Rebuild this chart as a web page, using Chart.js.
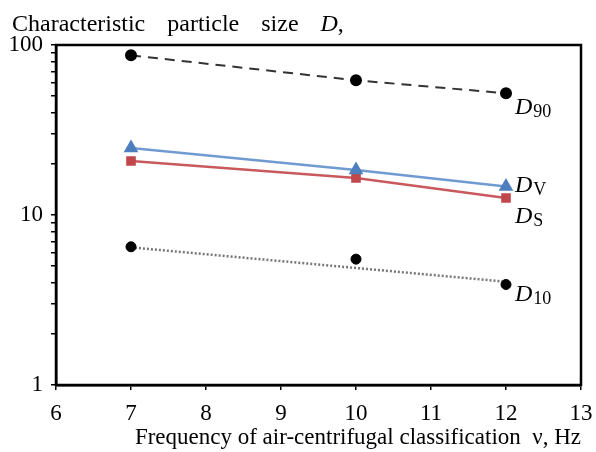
<!DOCTYPE html>
<html>
<head>
<meta charset="utf-8">
<script src="https://cdn.jsdelivr.net/npm/chart.js@4/dist/chart.umd.min.js"></script>
<style>
  html, body { margin: 0; padding: 0; background: #fff; }
  #wrap { width: 596px; height: 452px; position: relative; }
</style>
</head>
<body>
<div id="wrap"><canvas id="chart" width="596" height="452"></canvas></div>
<script>
// values
const freq = [7, 10, 12];
const d90 = [87, 62, 52];
const dv = [24.8, 18.4, 14.7];
const ds = [20.8, 16.5, 12.6];
const d10 = [6.5, 5.5, 3.9];
// D10 dotted trend line end points (line does not go through middle point)
const d10TrendX = [7, 12];
const d10Trend = [6.45, 4.05];

const xTicks = [6, 7, 8, 9, 10, 11, 12, 13];
const yTicks = [1, 2, 3, 4, 5, 6, 7, 8, 9, 10, 20, 30, 40, 50, 60, 70, 80, 90, 100];
const yLabels = [1, 10, 100];

const seriesLabels = [
  { main: 'D', sub: '90', data: d90, dy: 21 },
  { main: 'D', sub: 'V', data: dv, dy: 5 },
  { main: 'D', sub: 'S', data: ds, dy: 25 },
  { main: 'D', sub: '10', data: d10, dy: 16 }
];

const pts = (xs, ys) => xs.map((x, i) => ({ x: x, y: ys[i] }));

const serif = 'Liberation Serif, Times New Roman, serif';

// frame around the plot, the top title and the curve labels
const decorations = {
  id: 'decorations',
  afterDraw(chart) {
    const { ctx, chartArea, scales } = chart;
    ctx.save();
    ctx.strokeStyle = '#000';
    ctx.lineWidth = 2.5;
    ctx.strokeRect(chartArea.left, chartArea.top, chartArea.right - chartArea.left, chartArea.bottom - chartArea.top);

    ctx.fillStyle = '#000';
    ctx.textBaseline = 'alphabetic';
    ctx.textAlign = 'left';
    // top title
    ctx.font = '24px ' + serif;
    let x = 12;
    const words = ['Characteristic', 'particle', 'size'];
    words.forEach(w => {
      ctx.fillText(w, x, 31);
      x += ctx.measureText(w).width + 22;
    });
    ctx.font = 'italic 24px ' + serif;
    ctx.fillText('D', x, 31);
    x += ctx.measureText('D').width;
    ctx.font = '24px ' + serif;
    ctx.fillText(',', x, 31);

    // curve labels at the right end
    const lastX = freq[freq.length - 1];
    seriesLabels.forEach(s => {
      const px = scales.x.getPixelForValue(lastX) + 9;
      const py = scales.y.getPixelForValue(s.data[s.data.length - 1]) + s.dy;
      ctx.font = 'italic 24px ' + serif;
      ctx.fillText(s.main, px, py);
      const w = ctx.measureText(s.main).width;
      ctx.font = '18px ' + serif;
      ctx.fillText(s.sub, px + w + 1, py + 3);
    });
    ctx.restore();
  }
};

new Chart(document.getElementById('chart'), {
  type: 'scatter',
  data: {
    datasets: [
      {
        label: 'D90',
        data: pts(freq, d90),
        showLine: true,
        borderColor: '#333',
        borderWidth: 2,
        borderDash: [10, 7],
        pointStyle: 'circle',
        pointRadius: 5,
        pointBackgroundColor: '#000',
        pointBorderColor: '#000',
        order: 1
      },
      {
        label: 'DV',
        data: pts(freq, dv),
        showLine: true,
        borderColor: '#6f9bd0',
        borderWidth: 2.5,
        pointStyle: 'triangle',
        pointRadius: 6,
        pointBackgroundColor: '#4d7fbf',
        pointBorderColor: '#4d7fbf',
        order: 1
      },
      {
        label: 'DS',
        data: pts(freq, ds),
        showLine: true,
        borderColor: '#c8595c',
        borderWidth: 2.5,
        pointStyle: 'rect',
        pointRadius: 5,
        pointBackgroundColor: '#c0474b',
        pointBorderColor: '#c0474b',
        order: 2
      },
      {
        label: 'D10',
        data: pts(freq, d10),
        showLine: false,
        pointStyle: 'circle',
        pointRadius: 5,
        pointBackgroundColor: '#000',
        pointBorderColor: '#000',
        order: 0
      },
      {
        label: 'D10 trend',
        data: pts(d10TrendX, d10Trend),
        showLine: true,
        borderColor: '#777',
        borderWidth: 2.5,
        borderDash: [2, 2],
        pointRadius: 0,
        order: 3
      }
    ]
  },
  options: {
    responsive: false,
    animation: false,
    layout: { padding: { left: 0, right: 15, top: 45, bottom: 0 } },
    plugins: {
      legend: { display: false },
      tooltip: { enabled: false }
    },
    scales: {
      x: {
        type: 'linear',
        min: 6,
        max: 13,
        afterBuildTicks: scale => { scale.ticks = xTicks.map(v => ({ value: v })); },
        afterFit: scale => {
          scale.height = 67;
          scale.paddingLeft = 0;
          scale.paddingRight = 0;
        },
        grid: { drawOnChartArea: false, drawTicks: true, tickLength: 5, color: '#000', lineWidth: 1.5 },
        border: { color: '#000', width: 2.5 },
        ticks: {
          color: '#000',
          font: { family: serif, size: 23 },
          padding: 10,
          maxRotation: 0,
          autoSkip: false
        },
        title: {
          display: true,
          text: 'Frequency of air-centrifugal classification  \u03bd, Hz',
          align: 'end',
          color: '#000',
          font: { family: serif, size: 23 },
          padding: 0
        }
      },
      y: {
        type: 'logarithmic',
        min: 1,
        max: 100,
        afterBuildTicks: scale => { scale.ticks = yTicks.map(v => ({ value: v })); },
        afterFit: scale => {
          scale.width = 56;
          scale.paddingTop = 0;
          scale.paddingBottom = 0;
        },
        grid: { drawOnChartArea: false, drawTicks: true, tickLength: 5, color: '#000', lineWidth: 1.5 },
        border: { color: '#000', width: 2.5 },
        ticks: {
          color: '#000',
          font: { family: serif, size: 23 },
          padding: 8,
          autoSkip: false,
          callback: v => (yLabels.includes(v) ? String(v) : '')
        }
      }
    }
  },
  plugins: [decorations]
});
</script>
</body>
</html>
